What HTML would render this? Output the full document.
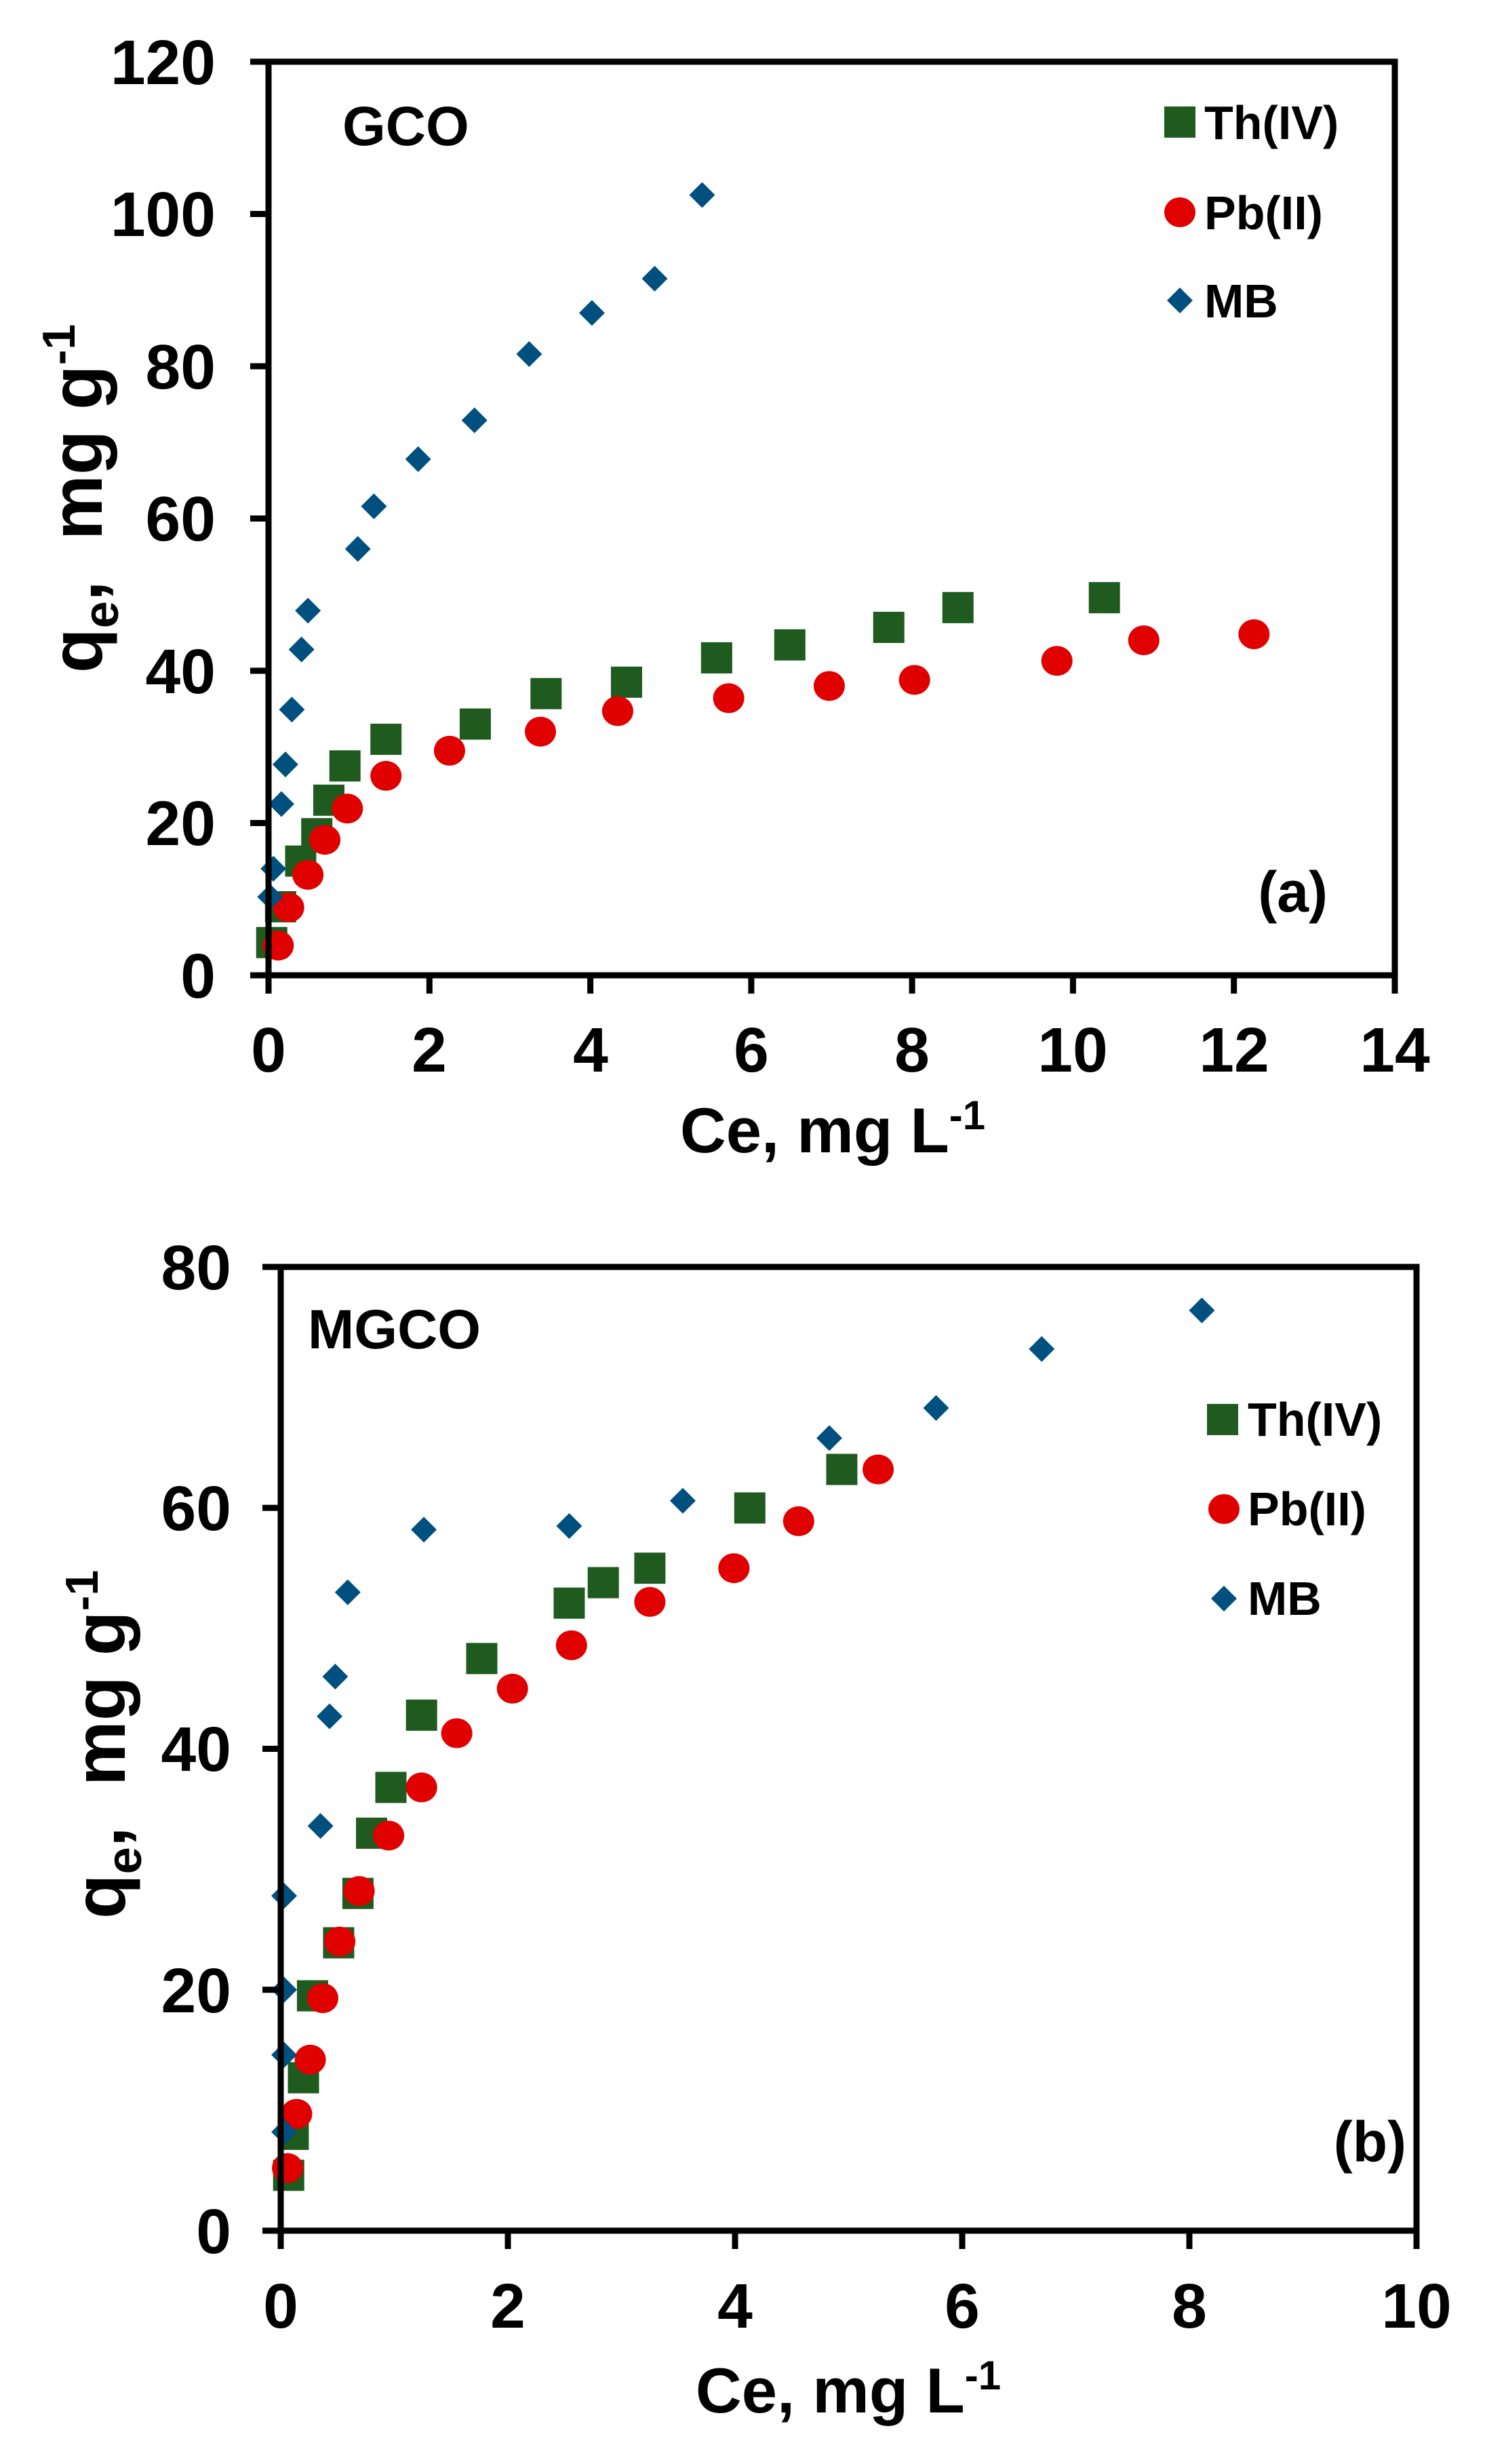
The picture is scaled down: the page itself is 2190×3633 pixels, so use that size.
<!DOCTYPE html>
<html><head><meta charset="utf-8"><style>
html,body{margin:0;padding:0;background:#fff}
svg{display:block}
text{font-family:"Liberation Sans",Arial,sans-serif;font-weight:bold;fill:#000;white-space:pre}
</style></head><body>
<svg id="s" width="2190" height="3633" viewBox="0 0 2190 3633" xmlns="http://www.w3.org/2000/svg">
<rect width="2190" height="3633" fill="#fff"/>
<g id="mk"></g>
<!-- Panel a axes -->
<rect x="396" y="91" width="1661" height="1347" fill="none" stroke="#000" stroke-width="9"/>
<g stroke="#000" stroke-width="9">
<line x1="369" y1="91" x2="396" y2="91"/><line x1="369" y1="315.5" x2="396" y2="315.5"/><line x1="369" y1="540" x2="396" y2="540"/><line x1="369" y1="764.5" x2="396" y2="764.5"/><line x1="369" y1="989" x2="396" y2="989"/><line x1="369" y1="1213.5" x2="396" y2="1213.5"/><line x1="369" y1="1438" x2="396" y2="1438"/>
<line x1="396" y1="1438" x2="396" y2="1465"/><line x1="633.3" y1="1438" x2="633.3" y2="1465"/><line x1="870.6" y1="1438" x2="870.6" y2="1465"/><line x1="1107.9" y1="1438" x2="1107.9" y2="1465"/><line x1="1345.1" y1="1438" x2="1345.1" y2="1465"/><line x1="1582.4" y1="1438" x2="1582.4" y2="1465"/><line x1="1819.7" y1="1438" x2="1819.7" y2="1465"/><line x1="2057" y1="1438" x2="2057" y2="1465"/>
</g>
<g font-size="93" text-anchor="end">
<text x="318" y="124">120</text><text x="318" y="348">100</text><text x="318" y="573">80</text><text x="318" y="797">60</text><text x="318" y="1022">40</text><text x="318" y="1246">20</text><text x="318" y="1471">0</text>
</g>
<g font-size="93" text-anchor="middle">
<text x="396" y="1580">0</text><text x="633" y="1580">2</text><text x="871" y="1580">4</text><text x="1108" y="1580">6</text><text x="1345" y="1580">8</text><text x="1582" y="1580">10</text><text x="1820" y="1580">12</text><text x="2057" y="1580">14</text>
</g>
<text x="1228" y="1699" font-size="94" text-anchor="middle">Ce, mg L<tspan dy="-34" font-size="60">-1</tspan></text>
<text transform="translate(150,735) rotate(-90)" font-size="108" text-anchor="middle">q<tspan dy="24" font-size="72">e</tspan><tspan dy="-24">,  mg g</tspan><tspan dy="-40" font-size="68">-1</tspan></text>
<text x="505" y="214" font-size="82">GCO</text>
<text x="1958" y="1344" font-size="84" text-anchor="end">(a)</text>
<g font-size="70"><text x="1776" y="205">Th(IV)</text><text x="1776" y="338">Pb(II)</text><text x="1776" y="468">MB</text></g>
<!-- Panel b axes -->
<rect x="414" y="1868" width="1675" height="1421" fill="none" stroke="#000" stroke-width="9"/>
<g stroke="#000" stroke-width="9">
<line x1="387" y1="1868" x2="414" y2="1868"/><line x1="387" y1="2223.25" x2="414" y2="2223.25"/><line x1="387" y1="2578.5" x2="414" y2="2578.5"/><line x1="387" y1="2933.75" x2="414" y2="2933.75"/><line x1="387" y1="3289" x2="414" y2="3289"/>
<line x1="414" y1="3289" x2="414" y2="3316"/><line x1="749" y1="3289" x2="749" y2="3316"/><line x1="1084" y1="3289" x2="1084" y2="3316"/><line x1="1419" y1="3289" x2="1419" y2="3316"/><line x1="1754" y1="3289" x2="1754" y2="3316"/><line x1="2089" y1="3289" x2="2089" y2="3316"/>
</g>
<g font-size="93" text-anchor="end">
<text x="341" y="1901">80</text><text x="341" y="2256">60</text><text x="341" y="2611">40</text><text x="341" y="2967">20</text><text x="341" y="3322">0</text>
</g>
<g font-size="93" text-anchor="middle">
<text x="414" y="3432">0</text><text x="749" y="3432">2</text><text x="1084" y="3432">4</text><text x="1419" y="3432">6</text><text x="1754" y="3432">8</text><text x="2089" y="3432">10</text>
</g>
<text x="1251" y="3557" font-size="94" text-anchor="middle">Ce, mg L<tspan dy="-34" font-size="60">-1</tspan></text>
<text transform="translate(184,2572) rotate(-90)" font-size="108" text-anchor="middle">q<tspan dy="24" font-size="72">e</tspan><tspan dy="-24">,  mg g</tspan><tspan dy="-40" font-size="68">-1</tspan></text>
<text x="454" y="1988" font-size="82">MGCO</text>
<text x="2074" y="3187" font-size="84" text-anchor="end">(b)</text>
<g font-size="70"><text x="1840" y="2117">Th(IV)</text><text x="1840" y="2249">Pb(II)</text><text x="1840" y="2381">MB</text></g>
</svg>
<script>
var NS="http://www.w3.org/2000/svg",g=document.getElementById("mk");
function el(t,a){var e=document.createElementNS(NS,t);for(var k in a)e.setAttribute(k,a[k]);g.appendChild(e);}
function sq(x,y){el("rect",{x:x-23,y:y-23,width:46,height:46,fill:"#1f5a1e"});}
function ci(x,y){el("ellipse",{cx:x,cy:y,rx:23,ry:22,fill:"#e00000"});}
function di(x,y){var h=19;el("polygon",{points:(x)+","+(y-h)+" "+(x+h)+","+y+" "+x+","+(y+h)+" "+(x-h)+","+y,fill:"#00507f"});}
function A(p){return [396+p[0]*118.64,1438-p[1]*11.225];}
function B(p){return [414+p[0]*167.5,3289-p[1]*17.76];}
var aTh=[[0.04,4.3],[0.15,9],[0.4,15],[0.6,18.6],[0.75,23],[0.95,27.5],[1.46,31],[2.57,33],[3.45,37],[4.45,38.5],[5.57,41.7],[6.48,43.4],[7.71,45.7],[8.57,48.3],[10.39,49.6]];
var aPb=[[0.12,3.9],[0.25,8.9],[0.49,13.2],[0.7,17.8],[0.98,21.9],[1.46,26.2],[2.25,29.5],[3.38,32],[4.34,34.7],[5.72,36.4],[6.97,38],[8.03,38.8],[9.8,41.3],[10.88,44],[12.25,44.8]];
var aMB=[[0.02,10.3],[0.06,14],[0.16,22.5],[0.21,27.7],[0.29,34.9],[0.41,42.8],[0.49,47.9],[1.11,56],[1.31,61.6],[1.86,67.8],[2.56,72.9],[3.24,81.6],[4.02,87],[4.8,91.5],[5.39,102.5]];
var bTh=[[0.07,4.6],[0.11,8],[0.2,12.7],[0.28,19.5],[0.51,23.9],[0.68,28],[0.8,33],[0.97,36.8],[1.24,42.8],[1.77,47.5],[2.54,52.1],[2.84,53.8],[3.25,55],[4.13,60],[4.94,63.2]];
var bPb=[[0.06,5.2],[0.14,9.7],[0.26,14.2],[0.37,19.3],[0.52,24],[0.69,28.2],[0.95,32.8],[1.24,36.8],[1.55,41.3],[2.04,45],[2.56,48.6],[3.25,52.2],[3.99,55],[4.56,58.9],[5.26,63.2]];
var bMB=[[0.03,8.2],[0.03,14.6],[0.03,20],[0.03,27.8],[0.35,33.6],[0.43,42.7],[0.48,46],[0.59,53],[1.26,58.2],[2.54,58.5],[3.54,60.6],[4.83,65.8],[5.77,68.3],[6.7,73.2],[8.11,76.4]];
aTh.forEach(function(p){var q=A(p);sq(q[0],q[1]);});
aPb.forEach(function(p){var q=A(p);ci(q[0],q[1]);});
aMB.forEach(function(p){var q=A(p);di(q[0],q[1]);});
bTh.forEach(function(p){var q=B(p);sq(q[0],q[1]);});
bPb.forEach(function(p){var q=B(p);ci(q[0],q[1]);});
bMB.forEach(function(p){var q=B(p);di(q[0],q[1]);});
sq(1740,180);ci(1740,313);di(1740,443);
sq(1803,2093);ci(1805,2225);di(1805,2357);
</script>
</body></html>
